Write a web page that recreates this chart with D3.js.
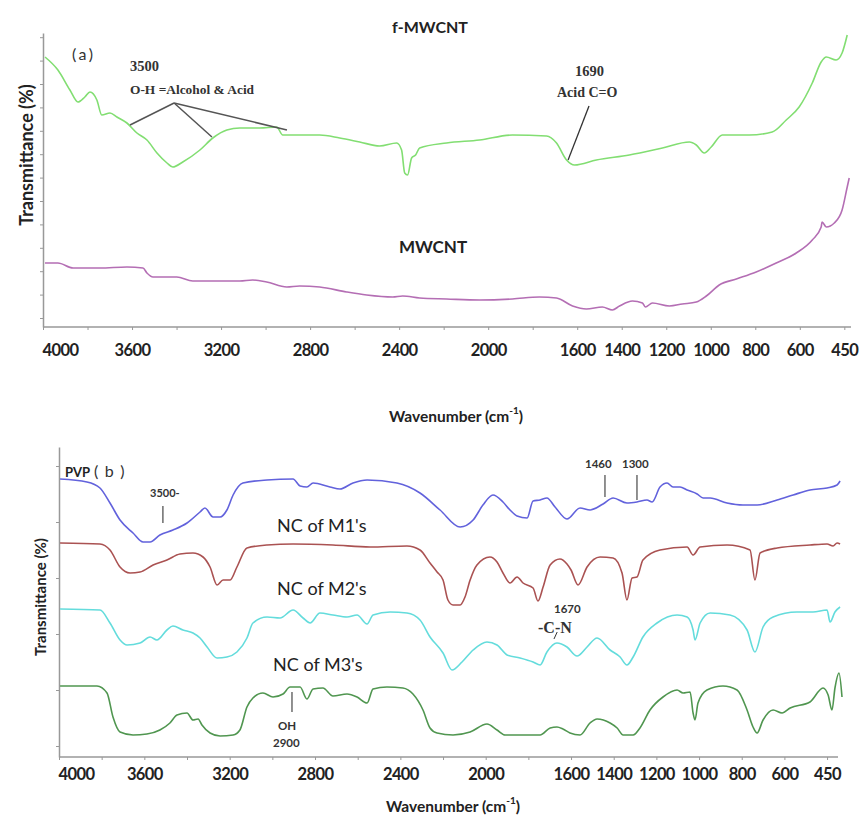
<!DOCTYPE html>
<html>
<head>
<meta charset="utf-8">
<script src="https://cdn.jsdelivr.net/npm/d3@7"></script>
<style>
  body { margin: 0; background: #fff; }
  svg { display: block; font-family: Lato, "Open Sans", sans-serif; }
</style>
</head>
<body>
<svg id="svg" width="862" height="817"></svg>
<script>
// x axis ticks, shared by both panels (the last tick is printed as 450)
const xTickValues = [4000, 3600, 3200, 2800, 2400, 2000, 1600, 1400, 1200, 1000, 800, 600, 400];
const xTickLabels = ["4000", "3600", "3200", "2800", "2400", "2000", "1600", "1400", "1200", "1000", "800", "600", "450"];
const xMinorTicks = d3.range(4000, 399, -200);

// panel (a) spectra : [wavenumber, transmittance (a.u.)]
const fMwcnt = [[3991,135],[3933,128.5],[3879,118.5],[3843,112.5],[3812,115],[3789,117.5],[3758,113.5],[3736,106],[3699,107],[3668,105],[3623,102],[3578,97],[3533,93.5],[3488,87],[3443,82],[3417,80],[3372,82.5],[3295,88.5],[3237,94.5],[3174,98.5],[3116,99.5],[3026,99.5],[2950,100],[2923,96],[2847,96],[2757,96],[2667,94.5],[2577,92.5],[2488,90.5],[2411,92],[2389,88.5],[2375,77],[2362,76],[2344,84.5],[2326,86],[2308,89.5],[2187,92],[2039,93.5],[1891,96],[1738,95.5],[1693,92],[1648,83.5],[1612,81],[1514,83.5],[1366,86],[1217,89.5],[1096,92.5],[1065,91],[1029,87],[998,90],[948,96],[827,96],[724,97.5],[661,103.5],[603,110],[544,122],[504,132.5],[481,135],[437,133.5],[410,137],[387,146]];

const mwcnt = [[3991,32],[3933,32],[3865,29.5],[3744,29.5],[3623,30],[3551,29.5],[3533,27],[3506,25],[3399,25],[3327,23],[3116,23],[3058,23.5],[2995,22.5],[2905,20],[2847,20.5],[2757,20],[2636,17.5],[2546,16],[2429,15],[2384,15.5],[2308,14.5],[2187,14],[2039,13.5],[1891,14],[1770,15],[1693,14.5],[1621,10.5],[1559,9],[1487,10],[1442,8.5],[1410,10.5],[1352,13],[1307,12],[1294,10],[1262,12],[1186,10.5],[1128,11.5],[1065,12.5],[1020,15.5],[962,21],[885,24],[796,27.5],[706,32],[616,37],[544,43.5],[504,50],[500,52.5],[481,50],[445,52],[410,58.5],[387,70],[378,74.5]];

// panel (b) spectra
const pvp = [[3995,139],[3869,137.5],[3808,134.5],[3761,127],[3714,118.5],[3653,112],[3606,107.5],[3573,107.5],[3527,111],[3466,113.5],[3400,117],[3339,122.5],[3316,124.5],[3278,120],[3245,120],[3213,123.5],[3184,131],[3138,137],[3025,138.5],[2903,139],[2870,135.5],[2838,135],[2809,137],[2730,135],[2683,134],[2622,137],[2556,138.5],[2416,137],[2308,132],[2214,123.5],[2120,115],[2059,118.5],[2013,126],[1966,131],[1919,127.5],[1886,123.5],[1853,120.5],[1806,119.5],[1778,128],[1745,128.5],[1713,129.5],[1675,125],[1619,119],[1558,124.5],[1511,123.5],[1450,126.5],[1403,129.5],[1338,127],[1291,127.5],[1244,128.5],[1220,127.5],[1183,135],[1150,137],[1122,135],[1089,135],[1056,133.5],[1009,131.5],[981,129.5],[948,129.5],[869,127],[794,126],[728,126],[634,128.5],[559,131],[480,133.5],[400,134.5],[353,136],[339,138]];

const ncM1 = [[3995,107],[3808,106.5],[3761,103.5],[3714,95],[3667,92],[3620,92.5],[3559,96],[3494,98.5],[3433,101.5],[3372,102],[3325,100],[3292,95],[3259,86],[3231,88.5],[3198,88.5],[3166,95],[3119,104.5],[3025,106],[2903,106.5],[2716,106],[2542,105],[2369,105.5],[2308,103.5],[2261,97],[2228,92.5],[2200,88.5],[2177,78.5],[2153,76],[2120,76],[2097,80],[2073,88.5],[2041,96],[1980,100],[1947,97.5],[1919,92],[1886,87],[1853,90],[1825,87],[1778,84.5],[1755,78],[1731,85],[1698,96],[1652,99],[1619,96.5],[1600,93.5],[1567,86],[1525,95],[1464,100],[1403,99.5],[1361,92],[1338,78.5],[1314,89.5],[1291,90],[1263,98.5],[1183,103.5],[1056,105],[1028,101],[995,105],[869,106],[761,103.5],[738,88.5],[714,102],[634,104.5],[480,106],[400,106.5],[372,105.5],[353,107],[339,106.5]];

const ncM2 = [[3995,74],[3808,73.5],[3761,67],[3714,58.5],[3681,56],[3620,57],[3573,60],[3541,58.5],[3494,63.5],[3466,65.5],[3419,63.5],[3372,62],[3339,59.5],[3306,55],[3259,49.5],[3213,50],[3166,52.5],[3119,59.5],[3091,67],[3025,70],[2964,69.5],[2903,73.5],[2856,69.5],[2823,67],[2777,72],[2716,71],[2650,70],[2603,71],[2556,66.5],[2528,71],[2448,72.5],[2369,72],[2308,68.5],[2261,60],[2200,52],[2158,43.5],[2111,47.5],[2059,53.5],[1994,57.5],[1947,56],[1900,51],[1839,49.5],[1778,47.5],[1745,46],[1713,52.5],[1666,57],[1619,55],[1572,50.5],[1525,55],[1478,59.5],[1417,53.5],[1370,50],[1338,46],[1309,50],[1263,60],[1197,67],[1103,71],[1056,70],[1028,63.5],[1019,58.5],[995,67],[948,72],[855,71],[775,63.5],[738,52.5],[700,65],[653,70],[541,72.5],[466,72.5],[400,73.5],[386,67.5],[363,72.5],[339,75]];

const ncM3 = [[3995,35.5],[3822,35.5],[3775,32],[3747,20],[3714,12.5],[3653,11],[3588,11.5],[3527,13.5],[3480,17],[3447,21],[3400,22],[3372,18.5],[3348,19],[3330,16],[3292,12],[3245,10.5],[3184,11],[3152,13.5],[3119,25],[3091,29.5],[3044,32],[2997,30],[2950,31.5],[2917,35],[2870,35],[2838,29],[2809,34],[2763,34.5],[2716,30.5],[2650,31.5],[2603,30],[2556,27],[2528,34],[2463,35],[2388,34.5],[2341,31.5],[2294,23.5],[2261,14.5],[2228,12],[2153,11],[2073,12.5],[1994,16.5],[1947,13.5],[1909,11],[1745,11],[1698,14.5],[1666,15],[1638,14],[1605,12],[1558,11],[1511,17],[1478,19],[1417,17],[1384,14.5],[1356,11],[1309,11],[1277,14.5],[1230,23.5],[1169,30],[1103,33.5],[1075,32],[1042,32.5],[1028,22],[1019,18.5],[1005,27],[963,33.5],[888,35.5],[822,33.5],[775,23.5],[747,15],[728,12],[700,18.5],[653,23.5],[611,22],[573,24.5],[480,27.5],[419,34.5],[395,31],[377,23.5],[363,34.5],[344,42],[330,30]];

const svg = d3.select('#svg');
svg.append('rect').attr('width', 862).attr('height', 817).attr('fill', '#fff');

// draws one panel : axes + spectra, returns the scales for the annotations
function drawPanel(p) {
  const x = d3.scaleLinear().domain([4000, p.xEnd]).range([p.left, p.right]);
  const y = d3.scaleLinear().domain([0, p.yMax]).range([p.bottom, p.top]);
  const g = svg.append('g');

  // x axis
  const xAxis = g.append('g')
    .attr('transform', 'translate(0,' + p.bottom + ')')
    .call(d3.axisBottom(x)
      .tickValues(xMinorTicks)
      .tickSize(3)
      .tickPadding(p.labelPad)
      .tickSizeOuter(0)
      .tickFormat(d => {
        const i = xTickValues.indexOf(d);
        return i >= 0 ? xTickLabels[i] : '';
      }));
  xAxis.select('.domain').attr('d', 'M' + p.left + ',0H' + p.axisEnd);
  xAxis.selectAll('line').attr('stroke', '#999');
  xAxis.selectAll('text')
    .attr('fill', '#222')
    .style('font-size', '16.5px')
    .style('letter-spacing', '-0.6px')
    .style('font-weight', 'bold')
    .style('font-family', 'Lato, sans-serif');
  // the first label sits right of its tick
  xAxis.selectAll('text').filter(d => d === 4000).attr('text-anchor', 'start').attr('x', -1);

  // y axis, no labels
  const yAxis = g.append('g')
    .attr('transform', 'translate(' + p.left + ',0)')
    .call(d3.axisLeft(y).tickValues(p.yTicks).tickSize(3).tickSizeOuter(0).tickFormat(''));
  yAxis.selectAll('line').attr('stroke', '#999');

  g.selectAll('.domain').attr('stroke', '#999').attr('stroke-width', 1.5);

  // spectra
  const line = d3.line()
    .x(d => x(d[0]))
    .y(d => y(d[1]))
    .curve(d3.curveMonotoneX);

  p.series.forEach(s => {
    g.append('path')
      .datum(s.data)
      .attr('fill', 'none')
      .attr('stroke', s.color)
      .attr('stroke-width', 1.6)
      .attr('stroke-linejoin', 'round')
      .attr('d', line);
  });

  return { x, y, g };
}

// helper for plain text labels
function label(g, txt, x, y, size, opts = {}) {
  return g.append('text')
    .attr('x', x)
    .attr('y', y)
    .attr('text-anchor', opts.anchor || 'start')
    .attr('fill', opts.fill || '#222')
    .style('font-size', size + 'px')
    .style('font-weight', opts.weight || 'normal')
    .style('letter-spacing', (opts.spacing || 0) + 'px')
    .style('font-family', opts.family || 'Lato, sans-serif')
    .text(txt);
}

function axisTitle(g, cx, cy, size) {
  const t = g.append('text')
    .attr('x', cx).attr('y', cy)
    .attr('text-anchor', 'middle')
    .attr('fill', '#222')
    .style('font-size', size + 'px')
    .style('font-weight', 'bold');
  t.append('tspan').text('Wavenumber (cm');
  t.append('tspan').attr('dy', -8).style('font-size', '10px').text('-1');
  t.append('tspan').attr('dy', 8).text(')');
}

function yTitle(g, cx, cy, size) {
  g.append('text')
    .attr('transform', 'translate(' + cx + ',' + cy + ') rotate(-90)')
    .attr('text-anchor', 'middle')
    .attr('fill', '#222')
    .style('font-size', size + 'px')
    .style('font-weight', 'bold')
    .text('Transmittance (%)');
}

const serif = '"Liberation Serif", serif';

// ---------- panel (a) ----------
const a = drawPanel({
  left: 43, right: 851, axisEnd: 851, xEnd: 370,
  top: 33, bottom: 327, yMax: 147,
  yTicks: d3.range(4.5, 147, 11.7),
  labelPad: 14,
  series: [
    { data: fMwcnt, color: '#82de72' },
    { data: mwcnt, color: '#b46eb4' }
  ]
});

label(a.g, 'f-MWCNT', 430, 33, 16, { anchor: 'middle', weight: 'bold' });
label(a.g, 'MWCNT', 433, 253, 17, { anchor: 'middle', weight: 'bold' });
label(a.g, '(a)', 72, 60, 16, { fill: '#333', spacing: 2.5 });
label(a.g, '3500', 130, 71, 14.5, { family: serif, weight: 'bold', fill: '#333' });
label(a.g, 'O-H =Alcohol & Acid', 130, 94, 13.4, { family: serif, weight: 'bold', fill: '#333' });
label(a.g, '1690', 575, 76, 14.5, { family: serif, weight: 'bold', fill: '#333' });
label(a.g, 'Acid C=O', 557, 97, 14, { family: serif, weight: 'bold', fill: '#333' });

// leader lines of the O-H band and the C=O band
const ohHub = [3411, 112];
[[3609, 101], [3241, 95], [2904, 98.5]].forEach(e => {
  a.g.append('line')
    .attr('x1', a.x(ohHub[0])).attr('y1', a.y(ohHub[1]))
    .attr('x2', a.x(e[0])).attr('y2', a.y(e[1]))
    .attr('stroke', '#555').attr('stroke-width', 1.5);
});
a.g.append('line')
  .attr('x1', a.x(1547)).attr('y1', a.y(110.5))
  .attr('x2', a.x(1641)).attr('y2', a.y(83.5))
  .attr('stroke', '#333').attr('stroke-width', 1.3);

yTitle(a.g, 33, 155, 18);
axisTitle(a.g, 456, 422, 15.5);

// ---------- panel (b) ----------
const b = drawPanel({
  left: 59, right: 842, axisEnd: 838, xEnd: 330,
  top: 447, bottom: 757, yMax: 155,
  yTicks: [5.5, 33.5, 61.5, 89.5, 117.5, 145.5],
  labelPad: 8,
  series: [
    { data: pvp, color: '#6262dc' },
    { data: ncM1, color: '#aa5252' },
    { data: ncM2, color: '#64dcdc' },
    { data: ncM3, color: '#509650' }
  ]
});

label(b.g, 'PVP', 65, 477, 13, { weight: 'bold' });
label(b.g, '( b )', 94, 477, 16, { fill: '#333', spacing: 1.2 });
label(b.g, '3500-', 150, 497, 11, { weight: 'bold', fill: '#333' });
label(b.g, '1460', 585, 468, 11.5, { weight: 'bold', fill: '#333' });
label(b.g, '1300', 622, 468, 11.5, { weight: 'bold', fill: '#333' });
label(b.g, "NC of M1's", 277, 532, 18);
label(b.g, "NC of M2's", 277, 595, 18);
label(b.g, "NC of M3's", 273, 671, 18);
label(b.g, '1670', 554, 613, 11.5, { weight: 'bold', fill: '#333' });
label(b.g, '-C-N', 538, 633, 16, { family: serif, weight: 'bold', fill: '#333' });
label(b.g, 'OH', 278, 730, 11.5, { weight: 'bold', fill: '#333' });
label(b.g, '2900', 273, 747, 11.5, { weight: 'bold', fill: '#333' });

// short band markers
[[3513, 125.5, 117], [1441, 141, 130], [1291, 141, 128.5], [2908, 32.5, 22.5]].forEach(m => {
  b.g.append('line')
    .attr('x1', b.x(m[0])).attr('y1', b.y(m[1]))
    .attr('x2', b.x(m[0])).attr('y2', b.y(m[2]))
    .attr('stroke', '#555').attr('stroke-width', 1.3);
});
b.g.append('line')
  .attr('x1', b.x(1665)).attr('y1', b.y(62.5))
  .attr('x2', b.x(1680)).attr('y2', b.y(59))
  .attr('stroke', '#333').attr('stroke-width', 1);

yTitle(b.g, 46, 597, 15);
axisTitle(b.g, 453, 812, 15.5);
</script>
</body>
</html>
